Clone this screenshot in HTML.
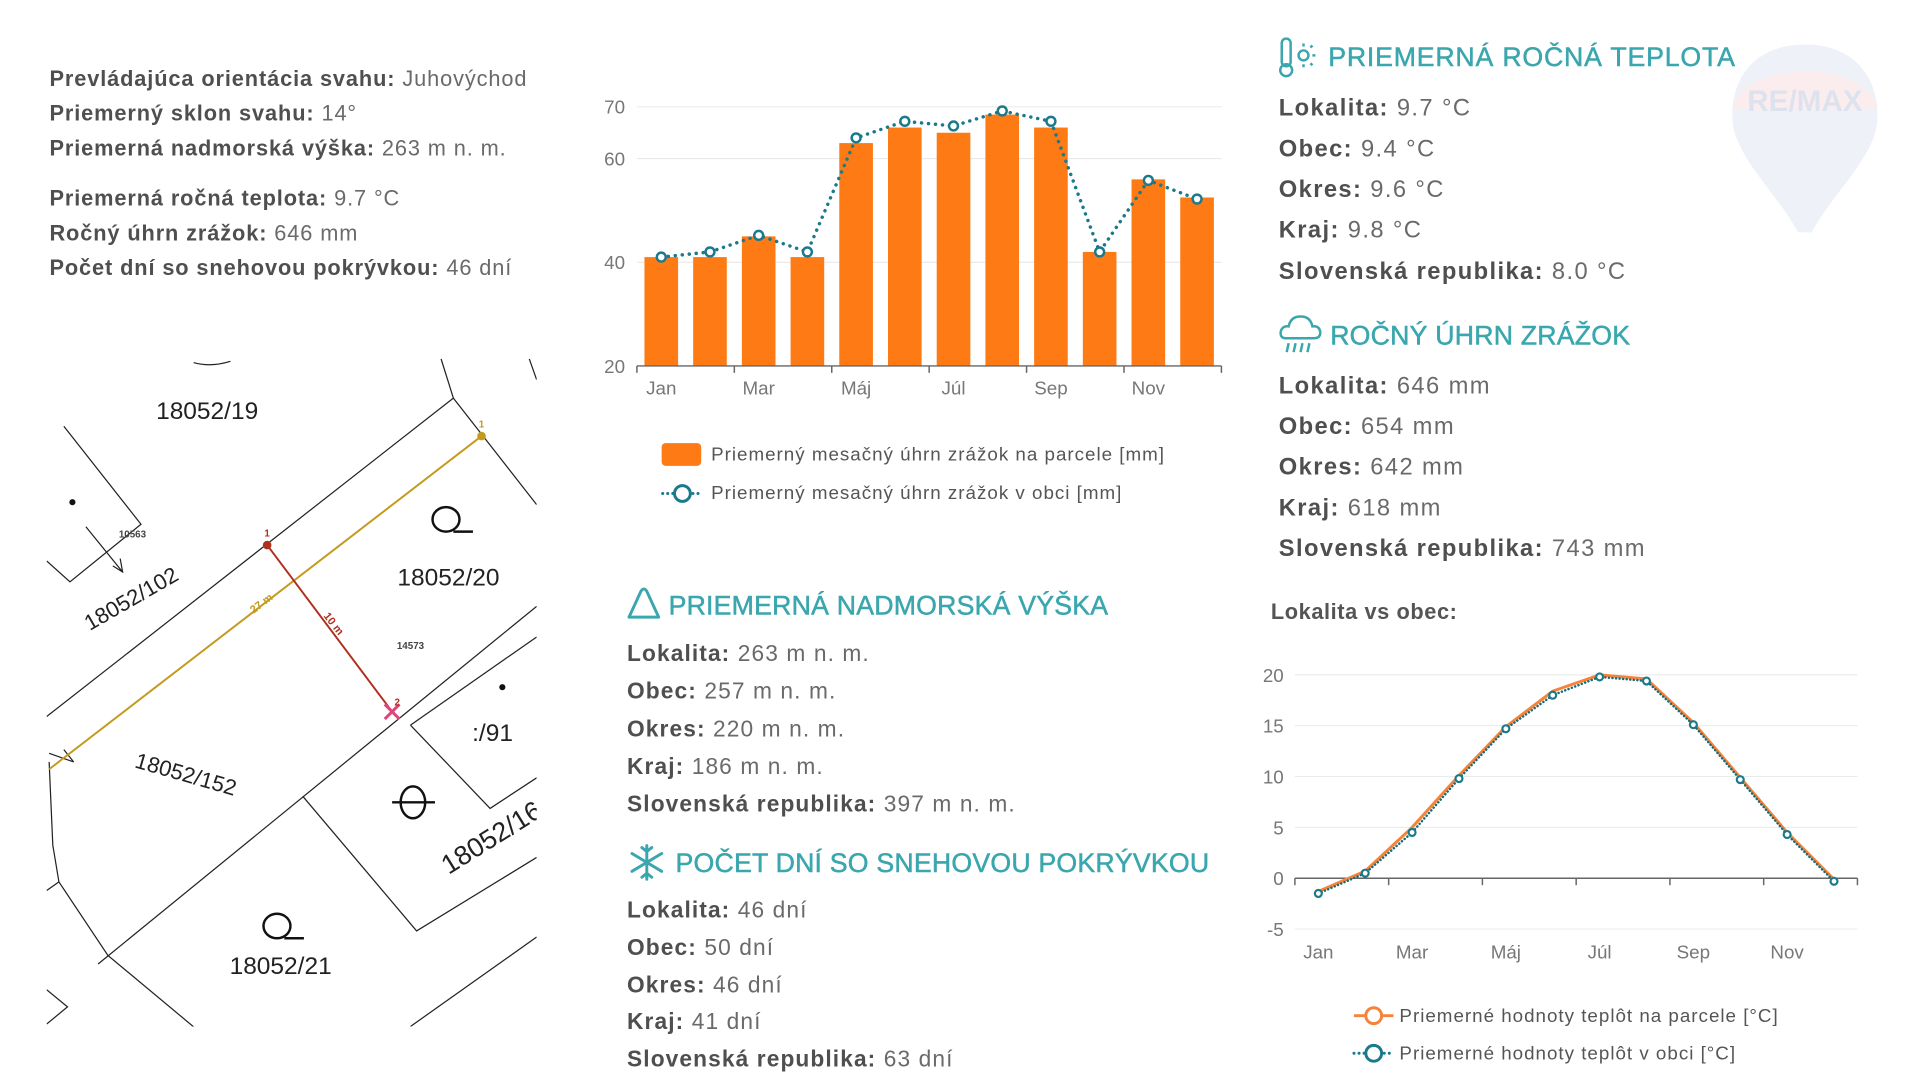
<!DOCTYPE html>
<html><head><meta charset="utf-8">
<style>
body{margin:0;width:1920px;height:1080px;background:#fff;position:relative;overflow:hidden;font-family:"Liberation Sans",sans-serif;}
#wrap{position:absolute;left:0;top:0;width:1920px;height:1080px;transform:scale(0.989);transform-origin:0 0;}
.t{position:absolute;white-space:nowrap;color:#6a6a6a;line-height:1;transform:translateY(-50%);}
.t b{color:#4f4f4f;}
.l1{font-size:22px;letter-spacing:0.9px;}
.l2{font-size:23px;letter-spacing:1.1px;}
.l3{font-size:24px;letter-spacing:1.4px;}
.lg{font-size:19px;letter-spacing:1px;color:#555;}
.h{position:absolute;white-space:nowrap;color:#3aa6ae;font-size:27px;line-height:1;transform:translateY(-50%);-webkit-text-stroke:0.5px #3aa6ae;letter-spacing:0.2px;}
svg text{font-family:"Liberation Sans",sans-serif;}
</style></head><body>
<div id="wrap">

<svg style="position:absolute;left:1740px;top:40px" width="170" height="210">
<path d="M85 5 C30 5 8 45 12 85 C16 120 60 160 78 195 L92 195 C110 160 154 120 158 85 C162 45 140 5 85 5Z" fill="#eef2f8"/>
<path d="M12 70 C20 20 150 20 158 70 Z" fill="#fbecee"/>
<text x="85" y="72" text-anchor="middle" font-size="30" fill="#dde3ee" font-weight="bold">RE/MAX</text>
</svg>

<div>
<div class="t l1" style="left:50px;top:80px"><b>Prevládajúca orientácia svahu:</b> Juhovýchod</div>
<div class="t l1" style="left:50px;top:115px"><b>Priemerný sklon svahu:</b> 14°</div>
<div class="t l1" style="left:50px;top:150px"><b>Priemerná nadmorská výška:</b> 263 m n. m.</div>
<div class="t l1" style="left:50px;top:201px"><b>Priemerná ročná teplota:</b> 9.7 °C</div>
<div class="t l1" style="left:50px;top:236px"><b>Ročný úhrn zrážok:</b> 646 mm</div>
<div class="t l1" style="left:50px;top:271px"><b>Počet dní so snehovou pokrývkou:</b> 46 dní</div>
</div>

<svg style="position:absolute;left:0;top:0" width="1920" height="1080" viewBox="0 0 1550 872">
<defs><clipPath id="mc"><rect x="38" y="290" width="400" height="548"/></clipPath></defs>
<g clip-path="url(#mc)" stroke="#222" stroke-width="1" fill="none">
<path d="M158 296 Q172 300 188 295"/>
<path d="M360 293 L370 325"/><path d="M432 293 L438 310"/>
<path d="M38 585 L370 325 L438 412"/>
<path d="M52 348 L115 428 L57 475 L38 458"/>
<path d="M70 430 L100 467 M92 462 L100 467 L98 456"/>
<path d="M80 787 L438 495"/>
<path d="M335 592 L438 520"/>
<path d="M335 592 L400 660 L438 635"/>
<path d="M247 650 L340 760 L438 700"/>
<path d="M40 622 L43 690 L48 720 L88 780 L160 840"/>
<path d="M38 727 L48 720"/>
<path d="M38 808 L55 822 L38 836"/>
<path d="M335 838 L438 765"/>
<path d="M40 615 L60 622 M52 612 L60 622"/>
</g>
<g clip-path="url(#mc)">
<line x1="40" y1="628" x2="393" y2="356" stroke="#c49a1c" stroke-width="1.6"/>
<circle cx="393" cy="356" r="3.5" fill="#c49a1c"/>
<text x="393" y="349" font-size="8" fill="#c49a1c" text-anchor="middle" font-weight="bold">1</text>
<line x1="218" y1="445" x2="320" y2="581" stroke="#b03020" stroke-width="1.6"/>
<circle cx="218" cy="445" r="3.5" fill="#b03020"/>
<text x="218" y="438" font-size="8" fill="#b03020" text-anchor="middle" font-weight="bold">1</text>
<path d="M314 575 L326 587 M326 575 L314 587" stroke="#e0457a" stroke-width="2.5"/>
<text x="322" y="576" font-size="8" fill="#b03020" font-weight="bold">2</text>
<text transform="translate(215,495) rotate(-37)" font-size="9" fill="#c49a1c" font-weight="bold" text-anchor="middle">27 m</text>
<text transform="translate(270,511) rotate(52)" font-size="9" fill="#b03020" font-weight="bold" text-anchor="middle">10 m</text>
<circle cx="59" cy="410" r="2.5" fill="#111"/><circle cx="410" cy="561" r="2.5" fill="#111"/>
<g fill="#222" font-size="20" text-anchor="middle">
<text x="169" y="342">18052/19</text>
<text x="366" y="478">18052/20</text>
<text x="229" y="795">18052/21</text>
<text x="402" y="605">:/91</text>
<text transform="translate(110,494) rotate(-30)" font-size="18">18052/102</text>
<text transform="translate(150,638) rotate(16)" font-size="18">18052/152</text>
<text transform="translate(405,690) rotate(-32)" font-size="22">18052/16</text>
</g>
<text x="108" y="439" font-size="8" fill="#444" font-weight="bold" text-anchor="middle">10563</text>
<text x="335" y="530" font-size="8" fill="#444" font-weight="bold" text-anchor="middle">14573</text>
<g stroke="#111" stroke-width="2" fill="none">
<ellipse cx="364" cy="424" rx="11" ry="10"/><path d="M370 434 L386 434"/>
<ellipse cx="226" cy="756" rx="11" ry="10"/><path d="M232 766 L248 766"/>
<ellipse cx="337" cy="655" rx="10" ry="13"/><path d="M320 655 L355 655"/>
</g>
</g>
</svg>

<svg id="bar" style="position:absolute;left:0;top:0" width="1920" height="1080"></svg>

<div>
<div style="position:absolute;left:669px;top:448px;width:40px;height:23px;background:#fe7a15;border-radius:4px"></div>
<div class="t lg" style="left:719px;top:460px">Priemerný mesačný úhrn zrážok na parcele [mm]</div>
<svg style="position:absolute;left:667px;top:487px" width="46" height="24"><line x1="3" y1="12" x2="43" y2="12" stroke="#1a7a8c" stroke-width="3" stroke-dasharray="0.1 5" stroke-linecap="round"/><circle cx="23" cy="12" r="8" fill="#fff" stroke="#1a7a8c" stroke-width="3"/></svg>
<div class="t lg" style="left:719px;top:499px">Priemerný mesačný úhrn zrážok v obci [mm]</div>
</div>

<svg style="position:absolute;left:632px;top:592px" width="38" height="36"><path d="M4 32 L16 6 Q19 1 22 6 L34 32 Z" fill="none" stroke="#3aa6ae" stroke-width="3" stroke-linejoin="round"/></svg>
<div class="h" style="left:676px;top:613px">PRIEMERNÁ NADMORSKÁ VÝŠKA</div>
<div>
<div class="t l2" style="left:634px;top:661px"><b>Lokalita:</b> 263 m n. m.</div>
<div class="t l2" style="left:634px;top:699px"><b>Obec:</b> 257 m n. m.</div>
<div class="t l2" style="left:634px;top:737px"><b>Okres:</b> 220 m n. m.</div>
<div class="t l2" style="left:634px;top:775px"><b>Kraj:</b> 186 m n. m.</div>
<div class="t l2" style="left:634px;top:813px"><b>Slovenská republika:</b> 397 m n. m.</div>
</div>
<svg style="position:absolute;left:634px;top:852px" width="40" height="40"><g stroke="#3aa6ae" stroke-width="3" stroke-linecap="round"><line x1="20" y1="3" x2="20" y2="37"/><line x1="5" y1="11" x2="35" y2="29"/><line x1="5" y1="29" x2="35" y2="11"/><path d="M15 5 L20 9 L25 5 M15 35 L20 31 L25 35" fill="none"/></g></svg>
<div class="h" style="left:683px;top:873px">POČET DNÍ SO SNEHOVOU POKRÝVKOU</div>
<div>
<div class="t l2" style="left:634px;top:920px"><b>Lokalita:</b> 46 dní</div>
<div class="t l2" style="left:634px;top:958px"><b>Obec:</b> 50 dní</div>
<div class="t l2" style="left:634px;top:996px"><b>Okres:</b> 46 dní</div>
<div class="t l2" style="left:634px;top:1033px"><b>Kraj:</b> 41 dní</div>
<div class="t l2" style="left:634px;top:1071px"><b>Slovenská republika:</b> 63 dní</div>
</div>

<svg style="position:absolute;left:1292px;top:36px" width="44" height="44"><rect x="4" y="3" width="9" height="28" rx="4.5" fill="none" stroke="#3aa6ae" stroke-width="2.5"/><circle cx="8.5" cy="35" r="6" fill="none" stroke="#3aa6ae" stroke-width="2.5"/><circle cx="26" cy="20" r="5" fill="none" stroke="#3aa6ae" stroke-width="2.5"/><g stroke="#3aa6ae" stroke-width="2.5"><line x1="26" y1="8" x2="26" y2="11"/><line x1="26" y1="29" x2="26" y2="32"/><line x1="35" y1="20" x2="38" y2="20"/><line x1="33" y1="12" x2="35" y2="10"/><line x1="33" y1="28" x2="35" y2="30"/></g></svg>
<div class="h" style="left:1343px;top:58px;letter-spacing:0.8px">PRIEMERNÁ ROČNÁ TEPLOTA</div>
<div>
<div class="t l3" style="left:1293px;top:110px"><b>Lokalita:</b> 9.7 °C</div>
<div class="t l3" style="left:1293px;top:151px"><b>Obec:</b> 9.4 °C</div>
<div class="t l3" style="left:1293px;top:192px"><b>Okres:</b> 9.6 °C</div>
<div class="t l3" style="left:1293px;top:233px"><b>Kraj:</b> 9.8 °C</div>
<div class="t l3" style="left:1293px;top:275px"><b>Slovenská republika:</b> 8.0 °C</div>
</div>
<svg style="position:absolute;left:1292px;top:316px" width="46" height="46"><path d="M8 26 Q2 26 3 19 Q5 13 11 14 Q13 4 23 4 Q33 4 35 14 Q42 13 43 20 Q43 26 37 26 Z" fill="none" stroke="#3aa6ae" stroke-width="2.5"/><g stroke="#3aa6ae" stroke-width="2.5"><line x1="11" y1="31" x2="9" y2="40"/><line x1="18" y1="31" x2="16" y2="40"/><line x1="25" y1="31" x2="23" y2="40"/><line x1="32" y1="31" x2="30" y2="40"/></g></svg>
<div class="h" style="left:1345px;top:340px">ROČNÝ ÚHRN ZRÁŽOK</div>
<div>
<div class="t l3" style="left:1293px;top:391px"><b>Lokalita:</b> 646 mm</div>
<div class="t l3" style="left:1293px;top:432px"><b>Obec:</b> 654 mm</div>
<div class="t l3" style="left:1293px;top:473px"><b>Okres:</b> 642 mm</div>
<div class="t l3" style="left:1293px;top:514px"><b>Kraj:</b> 618 mm</div>
<div class="t l3" style="left:1293px;top:555px"><b>Slovenská republika:</b> 743 mm</div>
</div>
<div class="t" style="left:1285px;top:619px;font-size:22px;font-weight:bold;color:#555;letter-spacing:0.6px">Lokalita vs obec:</div>

<svg id="temp" style="position:absolute;left:0;top:0" width="1920" height="1080"></svg>

<div>
<svg style="position:absolute;left:1366px;top:1015px" width="46" height="24"><line x1="3" y1="12" x2="43" y2="12" stroke="#f5843a" stroke-width="3"/><circle cx="23" cy="12" r="8" fill="#fff" stroke="#f5843a" stroke-width="3"/></svg>
<div class="t lg" style="left:1415px;top:1028px">Priemerné hodnoty teplôt na parcele [°C]</div>
<svg style="position:absolute;left:1366px;top:1053px" width="46" height="24"><line x1="3" y1="12" x2="43" y2="12" stroke="#1a7a8c" stroke-width="3" stroke-dasharray="0.1 5" stroke-linecap="round"/><circle cx="23" cy="12" r="8" fill="#fff" stroke="#1a7a8c" stroke-width="3"/></svg>
<div class="t lg" style="left:1415px;top:1066px">Priemerné hodnoty teplôt v obci [°C]</div>
</div>
</div>

<script>
const months = ["Jan","Feb","Mar","Apr","Máj","Jún","Júl","Aug","Sep","Okt","Nov","Dec"];
const precipParcel = [41,41,45,41,63,66,65,68.5,66,42,56,52.5];
const precipObec = [41,42,45.2,42,64,67.2,66.3,69.2,67.2,42,55.8,52.2];
const precipTicks = [20,40,60,70];
const tempParcel = [-1.3,0.7,5.0,10.1,14.9,18.4,20.0,19.6,15.3,9.9,4.5,-0.1];
const tempObec = [-1.5,0.5,4.5,9.8,14.7,18.0,19.8,19.4,15.1,9.7,4.3,-0.3];
const tempTicks = [-5,0,5,10,15,20];

const NS = "http://www.w3.org/2000/svg";
function mk(parent, tag, attrs){const e=document.createElementNS(NS,tag);for(const k in attrs)e.setAttribute(k,attrs[k]);parent.appendChild(e);return e;}

(function(){
  const svg=document.getElementById('bar');
  const X0=644, X1=1235, band=(X1-X0)/12;
  const y=v=>370-(v-20)*(370-108)/50;
  const xc=i=>X0+band*(i+0.5);
  precipTicks.forEach(t=>{
    if(t!==20){const g=mk(svg,'line',{x1:X0,x2:X1,y1:y(t),y2:y(t),stroke:'#e6e6e6','stroke-width':1});
    
    }
    const tx=mk(svg,'text',{x:632,y:y(t)+7,'text-anchor':'end','font-size':19,fill:'#777'});tx.textContent=t;
    
    
  });
  precipParcel.forEach((v,i)=>{
    const r=mk(svg,'rect',{x:xc(i)-17,y:y(v),width:34,height:370-y(v),fill:'#fe7a15'});
    
    
  });
  const ax=mk(svg,'line',{x1:X0,x2:X1,y1:370,y2:370,stroke:'#666','stroke-width':1.5});
  
  
  for(let i=0;i<=12;i+=2){const tk=mk(svg,'line',{x1:X0+band*i,x2:X0+band*i,y1:370,y2:377,stroke:'#666','stroke-width':1.5});
    
    }
  months.forEach((m,i)=>{if(i%2===0){const t=mk(svg,'text',{x:xc(i),y:399,'text-anchor':'middle','font-size':19,fill:'#777'});t.textContent=m;
    
    }});
  const pts=precipObec.map((v,i)=>xc(i)+','+y(v)).join(' ');
  const pl=mk(svg,'polyline',{points:pts,fill:'none',stroke:'#1a7a8c','stroke-width':3.5,'stroke-dasharray':'0.1 7','stroke-linecap':'round'});
  
  
  precipObec.forEach((v,i)=>{const c=mk(svg,'circle',{cx:xc(i),cy:y(v),r:4.5,fill:'#fff',stroke:'#1a7a8c','stroke-width':2.5});
    
    });
})();

(function(){
  const svg=document.getElementById('temp');
  const step=47.4, X0=1333-step/2, X1=X0+12*step;
  const y=v=>888-v*10.28;
  const xc=i=>X0+step*(i+0.5);
  tempTicks.forEach(t=>{
    if(t!==0){const g=mk(svg,'line',{x1:X0,x2:X1,y1:y(t),y2:y(t),stroke:'#e8e8e8','stroke-width':1});
    
    }
    const tx=mk(svg,'text',{x:1298,y:y(t)+7,'text-anchor':'end','font-size':19,fill:'#777'});tx.textContent=t;
    
    
  });
  const ax=mk(svg,'line',{x1:X0,x2:X1,y1:y(0),y2:y(0),stroke:'#666','stroke-width':1.5});
  
  
  for(let i=0;i<=12;i+=2){const tk=mk(svg,'line',{x1:X0+step*i,x2:X0+step*i,y1:y(0),y2:y(0)+7,stroke:'#666','stroke-width':1.5});
    
    }
  months.forEach((m,i)=>{if(i%2===0){const t=mk(svg,'text',{x:xc(i),y:969,'text-anchor':'middle','font-size':19,fill:'#777'});t.textContent=m;
    
    }});
  const p1=mk(svg,'polyline',{points:tempParcel.map((v,i)=>xc(i)+','+y(v)).join(' '),fill:'none',stroke:'#f5843a','stroke-width':3});
  
  
  const p2=mk(svg,'polyline',{points:tempObec.map((v,i)=>xc(i)+','+y(v)).join(' '),fill:'none',stroke:'#1a6a78','stroke-width':2.5,'stroke-dasharray':'0.1 3.5','stroke-linecap':'round'});
  
  
  tempObec.forEach((v,i)=>{const c=mk(svg,'circle',{cx:xc(i),cy:y(v),r:3.5,fill:'#fff',stroke:'#1a7a8c','stroke-width':2.2});
    
    });
})();
</script>
</body></html>
